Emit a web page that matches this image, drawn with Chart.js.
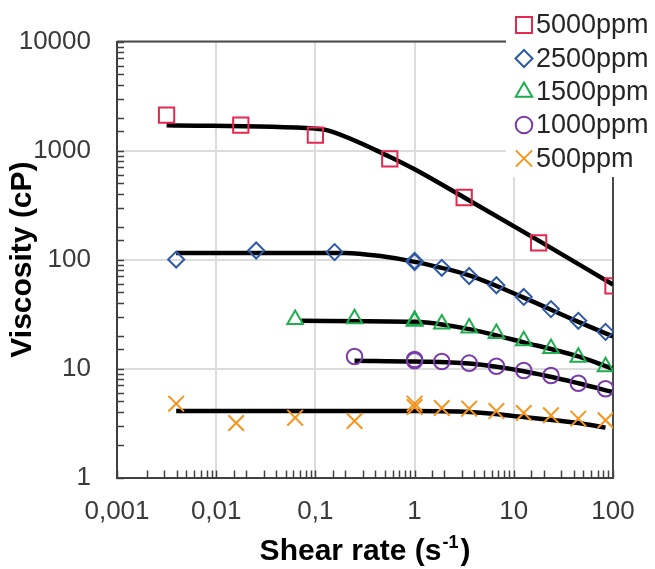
<!DOCTYPE html>
<html><head><meta charset="utf-8">
<script src="https://cdn.jsdelivr.net/npm/chart.js@4.4.1/dist/chart.umd.min.js"></script>
<style>html,body{margin:0;padding:0;background:#fff;}#wrap{width:655px;height:569px;position:relative;}</style>
</head><body><div id="wrap"><canvas id="c" width="655" height="569"></canvas></div>
<script>
// ---- data ----
const seriesNames = ['5000ppm', '2500ppm', '1500ppm', '1000ppm', '500ppm'];
const xTitle = 'Shear rate (s';
const xTitleSup = '-1';
const yTitle = 'Viscosity (cP)';
const xTickLabels = {'0.001': '0,001', '0.01': '0,01', '0.1': '0,1', '1': '1', '10': '10', '100': '100'};
const yTickLabels = {'1': '1', '10': '10', '100': '100', '1000': '1000', '10000': '10000'};

const s5000X = [0.00316, 0.0177, 0.1, 0.562, 3.16, 17.8, 100];
const s5000Y = [2110, 1712, 1387, 838, 371, 142, 57.2];
const s2500X = [0.00395, 0.0253, 0.156, 1, 1, 1.88, 3.55, 6.68, 12.6, 23.7, 44.7, 84.1];
const s2500Y = [100, 121, 117, 97, 95, 84, 70.6, 58.1, 45.4, 35.1, 27.4, 21.7];
const s1500X = [0.0625, 0.248, 1, 1, 1.88, 3.55, 6.68, 12.6, 23.7, 44.7, 84.1];
const s1500Y = [28.2, 28.6, 27.8, 27.2, 25.6, 23.5, 21.0, 18.0, 15.3, 12.7, 10.4];
const s1000X = [0.248, 1, 1, 1.88, 3.55, 6.68, 12.6, 23.7, 44.7, 84.1];
const s1000Y = [12.9, 12.1, 11.8, 11.6, 11.2, 10.5, 9.58, 8.63, 7.33, 6.52];
const s500X = [0.00395, 0.0159, 0.0625, 0.248, 1, 1, 1.88, 3.55, 6.68, 12.6, 23.7, 44.7, 84.1];
const s500Y = [4.76, 3.16, 3.54, 3.30, 4.76, 4.43, 4.34, 4.28, 4.07, 3.91, 3.72, 3.47, 3.35];

// fitted model curves (black lines)
const f5000X = [0.00316, 0.1, 0.13, 0.56, 1, 3.16, 17.8, 100];
const f5000Y = [1710, 1590, 1540, 879, 673, 371, 149, 59];
const f2500X = [0.00395, 0.2, 0.47, 1, 3.55, 12.6, 44.7, 100];
const f2500Y = [115, 115, 107, 95.3, 71.6, 44.7, 26.8, 19.7];
const f1500X = [0.072, 1, 1.88, 3.55, 12.6, 44.7, 100];
const f1500Y = [27.4, 26.8, 25.4, 23, 17.4, 12.9, 9.93];
const f1000X = [0.248, 1, 3.55, 12.6, 44.7, 100];
const f1000Y = [11.8, 11.6, 11.1, 9.44, 7.33, 6.07];
const f500X = [0.00395, 1, 3.55, 12.6, 44.7, 84];
const f500Y = [4.07, 4.07, 3.99, 3.59, 3.16, 2.87];

// ---- styling ----
const FONT = "'Liberation Sans', Arial, 'DejaVu Sans', sans-serif";
const colors = ['#E2294F', '#2E5AA6', '#1FAE4E', '#7A3BAA', '#F7941D'];
const styles = ['rect', 'rectRot', 'triangle', 'circle', 'crossRot'];
const radii = [10.8, 8, 9, 7.8, 11];
const pts = (xs, ys) => xs.map((x, i) => ({x: x, y: ys[i]}));

const markerSets = [[s5000X, s5000Y], [s2500X, s2500Y], [s1500X, s1500Y], [s1000X, s1000Y], [s500X, s500Y]];
const fitSets = [[f5000X, f5000Y], [f2500X, f2500Y], [f1500X, f1500Y], [f1000X, f1000Y], [f500X, f500Y]];

const datasets = [];
markerSets.forEach((s, i) => {
  datasets.push({
    label: seriesNames[i], data: pts(s[0], s[1]), showLine: false, order: 0,
    pointStyle: styles[i], pointRadius: radii[i], pointHoverRadius: radii[i],
    borderColor: colors[i], backgroundColor: 'rgba(0,0,0,0)', pointBorderWidth: 2,
    pointBackgroundColor: 'rgba(0,0,0,0)', pointBorderColor: colors[i]
  });
});
fitSets.forEach((s, i) => {
  datasets.push({
    label: seriesNames[i] + ' fit', data: pts(s[0], s[1]), showLine: true, order: 1,
    pointRadius: 0, pointHoverRadius: 0, borderColor: '#000', borderWidth: 4.5,
    cubicInterpolationMode: 'monotone', fill: false
  });
});

const isDecade = v => Math.abs(Math.log10(v) - Math.round(Math.log10(v))) < 1e-9;

const framePlugin = {
  id: 'frame',
  beforeDatasetsDraw(chart) {
    const {ctx, chartArea: a, scales} = chart;
    ctx.save();
    // inward tick marks
    ctx.strokeStyle = '#404040';
    ctx.lineWidth = 1.5;
    ctx.beginPath();
    scales.y.ticks.forEach(t => {
      const p = Math.round(scales.y.getPixelForValue(t.value)) + 0.5;
      ctx.moveTo(a.left, p); ctx.lineTo(a.left + 7, p);
    });
    scales.x.ticks.forEach(t => {
      const p = Math.round(scales.x.getPixelForValue(t.value)) + 0.5;
      ctx.moveTo(p, a.bottom); ctx.lineTo(p, a.bottom - 7);
    });
    ctx.stroke();
    // top and right frame
    ctx.strokeStyle = '#4a4a4a';
    ctx.lineWidth = 2;
    ctx.beginPath();
    ctx.moveTo(a.left, a.top); ctx.lineTo(a.right, a.top); ctx.lineTo(a.right, a.bottom);
    ctx.stroke();
    ctx.restore();
  },
  afterDraw(chart) {
    const {ctx, chartArea: a} = chart;
    ctx.save();
    // x-axis title with superscript
    ctx.fillStyle = '#000';
    ctx.textBaseline = 'alphabetic';
    const bigFont = 'bold 30px ' + FONT;
    const supFont = 'bold 18px ' + FONT;
    ctx.font = bigFont; const w1 = ctx.measureText(xTitle).width;
    ctx.font = supFont; const w2 = ctx.measureText(xTitleSup).width;
    ctx.font = bigFont; const w3 = ctx.measureText(')').width;
    const total = w1 + w2 + w3 + 3;
    const x0 = (a.left + a.right) / 2 - total / 2;
    const base = 560;
    ctx.textAlign = 'left';
    ctx.font = bigFont; ctx.fillText(xTitle, x0, base);
    ctx.font = supFont; ctx.fillText(xTitleSup, x0 + w1 + 1, base - 12);
    ctx.font = bigFont; ctx.fillText(')', x0 + w1 + w2 + 3, base);
    // legend
    ctx.fillStyle = '#fff';
    ctx.fillRect(506, 0, 149, 177);
    const ys = [25, 58.5, 92, 125, 158.5];
    ctx.font = '27px ' + FONT;
    ctx.textBaseline = 'middle';
    seriesNames.forEach((n, i) => {
      const opts = {pointStyle: styles[i], radius: radii[i] + 0.5, rotation: 0, borderWidth: 2};
      ctx.strokeStyle = colors[i];
      ctx.fillStyle = 'rgba(0,0,0,0)';
      ctx.lineWidth = 2;
      Chart.helpers.drawPoint(ctx, opts, 524, ys[i]);
      ctx.fillStyle = '#262626';
      ctx.fillText(n, 536, ys[i] + 1);
    });
    ctx.restore();
  }
};

new Chart(document.getElementById('c'), {
  type: 'scatter',
  data: {datasets: datasets},
  options: {
    responsive: false, animation: false, devicePixelRatio: 1,
    layout: {padding: {top: 39, right: 42, left: 0, bottom: 0}},
    plugins: {legend: {display: false}, tooltip: {enabled: false}},
    scales: {
      x: {
        type: 'logarithmic', min: 0.001, max: 100,
        afterFit(s) { s.height = 91.5; },
        border: {display: true, color: '#404040', width: 2},
        grid: {drawTicks: false, lineWidth: 2,
          color: c => (c.tick && isDecade(c.tick.value)) ? '#dcdcdc' : 'rgba(0,0,0,0)'},
        ticks: {autoSkip: false, maxRotation: 0, padding: 19, color: '#3a3a3a',
          font: {family: FONT, size: 26},
          callback: v => isDecade(v) ? (xTickLabels[String(v)] || String(v).replace('.', ',')) : ''},
        title: {display: false}
      },
      y: {
        type: 'logarithmic', min: 1, max: 10000,
        afterFit(s) { s.width = 117; },
        border: {display: true, color: '#404040', width: 2},
        grid: {drawTicks: false, lineWidth: 2,
          color: c => (c.tick && isDecade(c.tick.value)) ? '#dcdcdc' : 'rgba(0,0,0,0)'},
        ticks: {autoSkip: false, padding: 26, color: '#3a3a3a',
          font: {family: FONT, size: 26},
          callback: v => isDecade(v) ? (yTickLabels[String(Math.round(v))] || String(v)) : ''},
        title: {display: true, text: yTitle, color: '#000',
          font: {family: FONT, size: 30, weight: 'bold'}, padding: {top: 5, bottom: 0}}
      }
    }
  },
  plugins: [framePlugin]
});
</script></body></html>
